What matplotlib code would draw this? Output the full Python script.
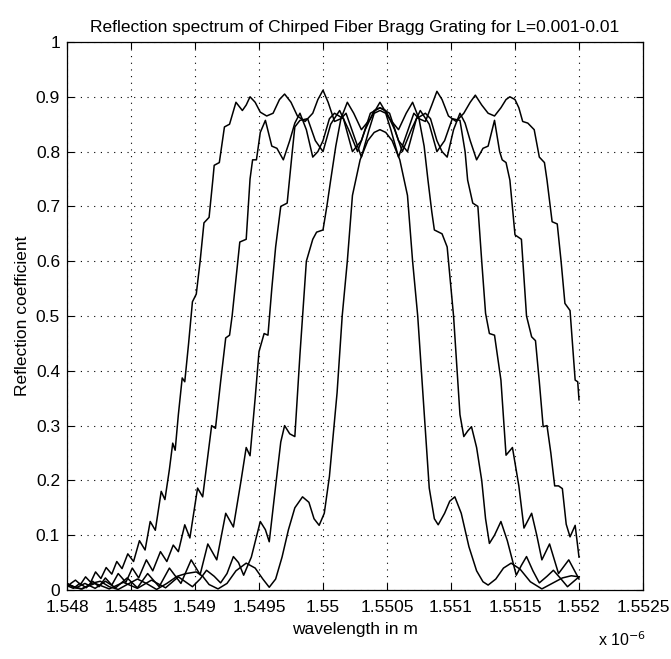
import matplotlib.pyplot as plt
import numpy as np

plt.rcParams['font.family'] = ['Liberation Sans', 'DejaVu Sans']

# wavelength offsets in nm above 1548 nm, and reflection coefficient
a_dl = [0.00, 0.03, 0.066, 0.105, 0.145, 0.185, 0.223, 0.265, 0.306, 0.35, 0.389, 0.43, 0.475, 0.52,
        0.566, 0.61, 0.65, 0.69, 0.736, 0.765, 0.80, 0.826, 0.845, 0.87, 0.90, 0.92, 0.95, 0.98, 1.01,
        1.04, 1.07, 1.11, 1.14, 1.15, 1.19, 1.23, 1.27, 1.32, 1.37, 1.40, 1.43, 1.47, 1.51, 1.56, 1.61,
        1.66, 1.70, 1.75, 1.80, 1.86, 1.92, 1.96, 2.00, 2.04, 2.09, 2.14, 2.19, 2.24, 2.30, 2.37, 2.445,
        2.52, 2.59, 2.65, 2.70, 2.75, 2.80, 2.85, 2.89, 2.93, 2.98, 3.04, 3.10, 3.15, 3.19, 3.24, 3.29,
        3.34, 3.39, 3.43, 3.46, 3.50, 3.53, 3.56, 3.60, 3.65, 3.69, 3.73, 3.75, 3.79, 3.83, 3.86, 3.89,
        3.93, 3.97, 3.99, 4.00]
a_r = [0.005, 0.012, 0.018, 0.010, 0.024, 0.014, 0.033, 0.021, 0.041, 0.029, 0.052, 0.039, 0.066, 0.052,
       0.090, 0.073, 0.125, 0.109, 0.180, 0.165, 0.22, 0.268, 0.255, 0.32, 0.387, 0.38, 0.45, 0.526, 0.54,
       0.60, 0.67, 0.68, 0.75, 0.775, 0.78, 0.845, 0.85, 0.89, 0.875, 0.885, 0.90, 0.89, 0.872, 0.865, 0.87,
       0.895, 0.905, 0.89, 0.865, 0.855, 0.87, 0.895, 0.912, 0.89, 0.855, 0.86, 0.89, 0.87, 0.84, 0.86, 0.89,
       0.86, 0.84, 0.87, 0.89, 0.86, 0.855, 0.885, 0.91, 0.895, 0.865, 0.855, 0.87, 0.89, 0.903, 0.885, 0.87,
       0.865, 0.88, 0.895, 0.90, 0.895, 0.88, 0.855, 0.852, 0.84, 0.79, 0.78, 0.748, 0.672, 0.668, 0.60, 0.523,
       0.51, 0.383, 0.38, 0.347]

b_dl = [0.00, 0.05, 0.10, 0.15, 0.20, 0.25, 0.30, 0.35, 0.40, 0.46, 0.51, 0.56, 0.62, 0.67, 0.73, 0.78,
        0.83, 0.87, 0.92, 0.96, 1.02, 1.06, 1.13, 1.16, 1.20, 1.24, 1.27, 1.29, 1.35, 1.40, 1.43, 1.45,
        1.48, 1.51, 1.55, 1.60, 1.64, 1.69, 1.74, 1.78, 1.82, 1.87, 1.92, 1.96, 2.00, 2.05, 2.09, 2.16,
        2.23, 2.30, 2.37, 2.445, 2.52, 2.59, 2.66, 2.73, 2.80, 2.84, 2.89, 2.93, 2.97, 3.02, 3.07, 3.11,
        3.15, 3.20, 3.25, 3.29, 3.34, 3.38, 3.40, 3.43, 3.46, 3.50, 3.55, 3.59, 3.63, 3.66, 3.69, 3.72,
        3.75, 3.78, 3.81, 3.84, 3.87, 3.90, 3.93, 3.97, 4.00]
b_r = [0.008, 0.003, 0.012, 0.004, 0.016, 0.006, 0.022, 0.009, 0.030, 0.014, 0.040, 0.022, 0.055, 0.035,
       0.070, 0.052, 0.082, 0.070, 0.119, 0.095, 0.186, 0.170, 0.300, 0.295, 0.38, 0.46, 0.465, 0.50, 0.635,
       0.64, 0.75, 0.785, 0.785, 0.835, 0.857, 0.81, 0.806, 0.785, 0.82, 0.852, 0.87, 0.84, 0.79, 0.80, 0.82,
       0.86, 0.87, 0.86, 0.80, 0.82, 0.87, 0.88, 0.87, 0.82, 0.80, 0.86, 0.87, 0.86, 0.82, 0.80, 0.79, 0.84,
       0.87, 0.852, 0.82, 0.785, 0.806, 0.81, 0.857, 0.80, 0.785, 0.78, 0.748, 0.648, 0.64, 0.50, 0.462,
       0.455, 0.38, 0.298, 0.30, 0.25, 0.19, 0.19, 0.185, 0.12, 0.097, 0.118, 0.06]

c_dl = [0.00, 0.07, 0.14, 0.22, 0.30, 0.38, 0.47, 0.55, 0.63, 0.72, 0.80, 0.89, 0.97, 1.04, 1.10, 1.17,
        1.24, 1.30, 1.36, 1.40, 1.43, 1.47, 1.50, 1.54, 1.57, 1.60, 1.63, 1.67, 1.72, 1.76, 1.78, 1.82,
        1.88, 1.94, 2.00, 2.06, 2.13, 2.20, 2.27, 2.33, 2.40, 2.445, 2.49, 2.56, 2.62, 2.69, 2.76, 2.83,
        2.89, 2.95, 3.01, 3.07, 3.11, 3.13, 3.17, 3.21, 3.24, 3.27, 3.30, 3.34, 3.39, 3.43, 3.48, 3.53,
        3.57, 3.63, 3.67, 3.71, 3.77, 3.84, 3.92, 4.00]
c_r = [0.012, 0.004, 0.012, 0.003, 0.016, 0.004, 0.022, 0.004, 0.030, 0.006, 0.040, 0.012, 0.055, 0.028,
       0.084, 0.055, 0.140, 0.115, 0.200, 0.260, 0.245, 0.35, 0.435, 0.468, 0.465, 0.55, 0.626, 0.70, 0.706,
       0.80, 0.845, 0.857, 0.86, 0.82, 0.80, 0.85, 0.875, 0.84, 0.80, 0.84, 0.875, 0.88, 0.875, 0.84, 0.80,
       0.84, 0.875, 0.85, 0.80, 0.82, 0.86, 0.857, 0.80, 0.748, 0.706, 0.70, 0.60, 0.505, 0.468, 0.465,
       0.383, 0.246, 0.26, 0.19, 0.113, 0.14, 0.10, 0.055, 0.084, 0.03, 0.055, 0.02]

d_dl = [0.00, 0.11, 0.22, 0.33, 0.44, 0.55, 0.66, 0.77, 0.87, 0.98, 1.04, 1.09, 1.15, 1.20, 1.25, 1.30,
        1.34, 1.38, 1.44, 1.51, 1.55, 1.58, 1.63, 1.67, 1.70, 1.74, 1.78, 1.82, 1.87, 1.92, 1.95, 2.00,
        2.03, 2.06, 2.10, 2.14, 2.18, 2.24, 2.30, 2.36, 2.40, 2.445, 2.49, 2.53, 2.59, 2.65, 2.71, 2.75,
        2.79, 2.82, 2.85, 2.87, 2.93, 2.97, 3.02, 3.07, 3.10, 3.13, 3.16, 3.20, 3.24, 3.27, 3.30, 3.34,
        3.39, 3.44, 3.51, 3.55, 3.59, 3.64, 3.69, 3.75, 3.80, 3.86, 3.91, 4.00]
d_r = [0.010, 0.002, 0.012, 0.002, 0.014, 0.003, 0.018, 0.004, 0.024, 0.006, 0.020, 0.036, 0.025, 0.013,
       0.030, 0.061, 0.050, 0.027, 0.060, 0.125, 0.110, 0.088, 0.19, 0.27, 0.30, 0.285, 0.28, 0.43, 0.60,
       0.64, 0.653, 0.657, 0.70, 0.748, 0.81, 0.86, 0.87, 0.83, 0.79, 0.84, 0.87, 0.875, 0.87, 0.84, 0.79,
       0.83, 0.87, 0.86, 0.81, 0.748, 0.69, 0.657, 0.65, 0.626, 0.50, 0.32, 0.28, 0.29, 0.298, 0.26, 0.20,
       0.13, 0.085, 0.10, 0.125, 0.09, 0.027, 0.045, 0.061, 0.035, 0.013, 0.025, 0.036, 0.02, 0.006, 0.024]

e_dl = [0.00, 0.06, 0.12, 0.19, 0.26, 0.33, 0.40, 0.47, 0.55, 0.62, 0.70, 0.78, 0.86, 0.93, 1.01, 1.06,
        1.11, 1.18, 1.25, 1.32, 1.40, 1.47, 1.53, 1.58, 1.63, 1.68, 1.73, 1.78, 1.84, 1.89, 1.93, 1.97,
        2.01, 2.05, 2.11, 2.15, 2.19, 2.23, 2.29, 2.35, 2.40, 2.445, 2.49, 2.54, 2.60, 2.66, 2.70, 2.74,
        2.78, 2.83, 2.87, 2.90, 2.95, 2.99, 3.03, 3.08, 3.14, 3.20, 3.25, 3.29, 3.35, 3.41, 3.47, 3.54,
        3.62, 3.71, 3.79, 3.87, 3.94, 4.00]
e_r = [0.012, 0.004, 0.002, 0.012, 0.016, 0.006, 0.001, 0.010, 0.020, 0.012, 0.001, 0.012, 0.025, 0.030,
       0.033, 0.025, 0.010, 0.002, 0.012, 0.035, 0.049, 0.040, 0.020, 0.005, 0.020, 0.060, 0.110, 0.150,
       0.170, 0.160, 0.130, 0.118, 0.140, 0.207, 0.36, 0.50, 0.60, 0.72, 0.785, 0.82, 0.835, 0.84, 0.835,
       0.82, 0.785, 0.72, 0.60, 0.50, 0.36, 0.186, 0.13, 0.119, 0.14, 0.162, 0.170, 0.140, 0.079, 0.035,
       0.015, 0.009, 0.020, 0.040, 0.049, 0.038, 0.015, 0.002, 0.012, 0.022, 0.026, 0.024]

curves = [(a_dl, a_r), (b_dl, b_r), (c_dl, c_r), (d_dl, d_r), (e_dl, e_r)]

xticks = np.arange(1.548, 1.55251, 0.0005) * 1e-6
yticks = np.arange(0, 1.01, 0.1)

fig = plt.figure(figsize=(6.71, 6.59), dpi=100)
ax = fig.add_axes([67 / 671, 1 - 590 / 659, 576 / 671, 548 / 659])

for dl, r in curves:
    lam = (1548 + np.array(dl)) * 1e-9
    ax.plot(lam, r, color='black', linewidth=1.1)

ax.set_xlim(1.548e-6, 1.5525e-6)
ax.set_ylim(0, 1)
ax.set_xticks(xticks)
ax.set_xticklabels(['%g' % round(t * 1e6, 4) for t in xticks])
ax.set_yticks(yticks)
ax.set_yticklabels(['%g' % round(t, 1) for t in yticks])
ax.grid(True, color='black', linestyle=(0, (1, 5)), linewidth=0.8)
ax.tick_params(direction='in', length=5, width=0.8, top=True, right=True, labelsize=12.5)
ax.tick_params(axis='x', pad=7)
ax.tick_params(axis='y', pad=5)
for s in ax.spines.values():
    s.set_linewidth(0.9)

ax.set_title('Reflection spectrum of Chirped Fiber Bragg Grating for L=0.001-0.01', fontsize=12.5, pad=7)
ax.set_xlabel('wavelength in m', fontsize=12.5, labelpad=5)
ax.set_ylabel('Reflection coefficient', fontsize=12.5, labelpad=4)
fig.text(598 / 671, 1 - 640 / 659, r'x 10$^{-6}$', fontsize=11.5, va='center')

fig.savefig('out.png', dpi=100, facecolor='white')
